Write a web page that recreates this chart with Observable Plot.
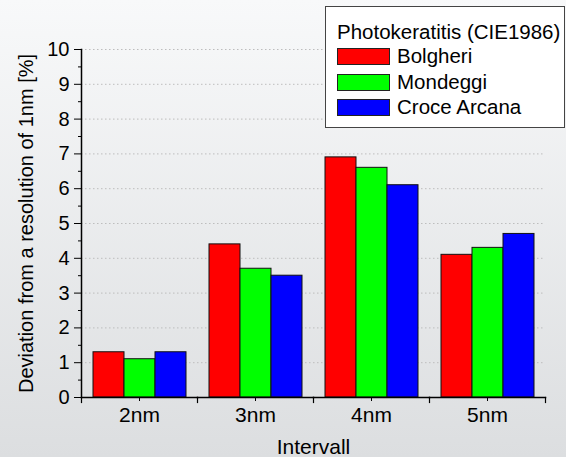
<!DOCTYPE html>
<html><head><meta charset="utf-8">
<script src="https://cdn.jsdelivr.net/npm/d3@7"></script>
<script src="https://cdn.jsdelivr.net/npm/@observablehq/plot@0.6"></script>
<style>
html,body{margin:0;padding:0;}
body{width:566px;height:457px;overflow:hidden;font-family:"Liberation Sans",Arial,sans-serif;}
#chart{position:relative;width:566px;height:457px;background:linear-gradient(#f8f9fa,#dcdee0);}
#chart svg{position:absolute;left:0;top:0;}
#legend{position:absolute;left:325px;top:6px;width:240px;height:122px;background:#fff;border:1px solid #444;box-sizing:border-box;font-size:20.5px;color:#000;}
#legend .title{position:absolute;left:11px;top:13px;white-space:nowrap;line-height:24px;}
#legend .item{position:absolute;left:11px;height:18px;white-space:nowrap;}
#legend .sw{position:absolute;left:0;top:0;width:51px;height:15px;border:1px solid #222;}
#legend .lab{position:absolute;left:60px;top:-4px;line-height:24px;}
</style></head><body><div id="chart"></div>
<script>
const intervals = ["2nm", "3nm", "4nm", "5nm"];
const series = ["Bolgheri", "Mondeggi", "Croce Arcana"];
const colors = ["#ff0000", "#00ff00", "#0000ff"];
const bolgheri = [1.3, 4.4, 6.9, 4.1];
const mondeggi = [1.1, 3.7, 6.6, 4.3];
const croceArcana = [1.3, 3.5, 6.1, 4.7];
const yTicks = [0, 1, 2, 3, 4, 5, 6, 7, 8, 9, 10];
const yMinorTicks = [0.5, 1.5, 2.5, 3.5, 4.5, 5.5, 6.5, 7.5, 8.5, 9.5];
const legendTitle = "Photokeratitis (CIE1986)";
const xLabel = "Intervall";
const yLabel = "Deviation from a resolution of 1nm [%]";

const valuesBySeries = [bolgheri, mondeggi, croceArcana];
const data = [];
intervals.forEach((iv, i) => series.forEach((s, j) => data.push({interval: iv, series: s, value: valuesBySeries[j][i]})));

const W = 566, H = 457, mT = 49, mB = 60, mL = 79, mR = 20;
const innerH = H - mT - mB;

const plot = Plot.plot({
  width: W, height: H,
  marginTop: mT, marginBottom: mB, marginLeft: mL, marginRight: mR,
  style: {background: "transparent", fontFamily: "'Liberation Sans', Arial, sans-serif", fontSize: "21px", color: "#000"},
  fx: {domain: intervals, paddingInner: 0, paddingOuter: 0},
  x: {domain: series, paddingInner: 0, paddingOuter: 0.37, axis: null},
  y: {domain: [0, 10]},
  color: {domain: series, range: colors},
  marks: [
    Plot.ruleY(yTicks.filter(d => d > 0), {stroke: "#bdbdbd", strokeDasharray: "1.5,2.5"}),
    Plot.barY(data, {fx: "interval", x: "series", y: "value", fill: "series", stroke: "#111", strokeWidth: 1}),
    Plot.frame({anchor: "bottom", stroke: "#000", strokeWidth: 1.5}),
    Plot.frame({anchor: "left", facetAnchor: "left", stroke: "#000", strokeWidth: 1.5}),
    Plot.frame({anchor: "left", insetTop: innerH, insetBottom: -5, stroke: "#000", strokeWidth: 1.2}),
    Plot.frame({anchor: "right", facetAnchor: "right", insetTop: innerH, insetBottom: -5, stroke: "#000", strokeWidth: 1.2}),
    Plot.axisFx({anchor: "bottom", tickSize: 4, tickPadding: 6, fontSize: 21, label: xLabel, labelAnchor: "center", labelArrow: false, labelOffset: 56}),
    Plot.axisY(yTicks, {tickSize: 7, tickPadding: 5, fontSize: 20, label: yLabel, labelAnchor: "center", labelArrow: false, labelOffset: 63}),
    Plot.axisY(yMinorTicks, {tickSize: 3, tickFormat: () => "", label: null})
  ]
});
const chart = document.getElementById("chart");
chart.appendChild(plot);

const legend = document.createElement("div");
legend.id = "legend";
const t = document.createElement("div");
t.className = "title";
t.textContent = legendTitle;
legend.appendChild(t);
series.forEach((s, j) => {
  const it = document.createElement("div");
  it.className = "item";
  it.style.top = (41 + j * 25.5) + "px";
  const sw = document.createElement("div");
  sw.className = "sw";
  sw.style.background = colors[j];
  const lab = document.createElement("div");
  lab.className = "lab";
  lab.textContent = s;
  it.appendChild(sw); it.appendChild(lab);
  legend.appendChild(it);
});
chart.appendChild(legend);
</script></body></html>
